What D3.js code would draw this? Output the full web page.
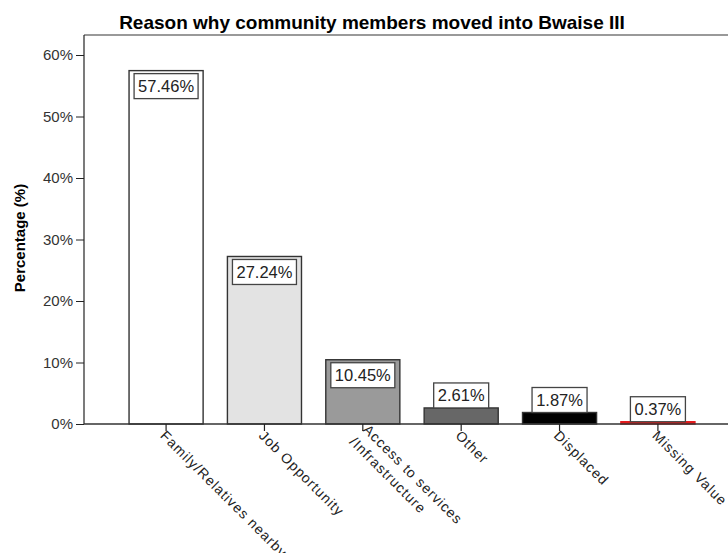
<!DOCTYPE html>
<html><head><meta charset="utf-8">
<script src="https://cdn.jsdelivr.net/npm/d3@7"></script>
<style>body{margin:0;background:#fff}svg{display:block}text{font-family:Arial,"Liberation Sans",sans-serif}</style>
</head><body><div id="chart"></div>
<script>
const title = "Reason why community members moved into Bwaise III";
const yTitle = "Percentage (%)";
const categories = ["Family/Relatives nearby","Job Opportunity","Access to services\n/Infrastructure","Other","Displaced","Missing Value"];
const values = [57.46, 27.24, 10.45, 2.61, 1.87, 0.37];
const fills = ["#ffffff","#e3e3e3","#9a9a9a","#676767","#000000","#e31a1c"];
const yTicks = [0,10,20,30,40,50,60];

(function(){
const W = 728, H = 553;
const svg = d3.select("#chart").append("svg").attr("width", W).attr("height", H);

const mLeft = 84, mTop = 35, mBottom = 424;
const y = d3.scaleLinear().domain([0, 60]).range([mBottom, 55]);
const x = d3.scaleBand().domain(categories).range([mLeft, 740]).paddingInner(0.247).paddingOuter(0.458);

svg.append("text").attr("x", 372).attr("y", 29).attr("text-anchor", "middle")
  .attr("font-size", 19).attr("font-weight", "bold").attr("fill", "#000").text(title);

svg.append("line").attr("x1", mLeft).attr("x2", W).attr("y1", mTop).attr("y2", mTop)
  .attr("stroke", "#777").attr("stroke-width", 1.5);

const yAxis = svg.append("g").attr("transform", `translate(${mLeft},0)`)
  .call(d3.axisLeft(y).tickValues(yTicks).tickFormat(d => d + "%").tickSize(8).tickPadding(3));
yAxis.select(".domain").remove();
yAxis.selectAll("line").attr("stroke", "#222");
yAxis.selectAll("text").attr("font-size", 15).attr("fill", "#333").attr("font-family", "Arial, 'Liberation Sans', sans-serif");
svg.append("line").attr("x1", mLeft).attr("x2", mLeft).attr("y1", mTop).attr("y2", mBottom)
  .attr("stroke", "#222").attr("stroke-width", 1.2);

svg.append("text").attr("transform", `translate(25,238) rotate(-90)`).attr("text-anchor", "middle")
  .attr("font-size", 15).attr("font-weight", "bold").attr("fill", "#000").text(yTitle);

const bw = x.bandwidth();
svg.selectAll("rect.bar").data(values).enter().append("rect")
  .attr("class", "bar")
  .attr("x", (d, i) => x(categories[i]))
  .attr("y", d => y(d))
  .attr("width", bw)
  .attr("height", d => mBottom - y(d))
  .attr("fill", (d, i) => fills[i])
  .attr("stroke", (d, i) => i === 5 ? "#e31a1c" : "#333")
  .attr("stroke-width", 1.4);

svg.append("line").attr("x1", mLeft).attr("x2", W).attr("y1", mBottom).attr("y2", mBottom)
  .attr("stroke", "#333").attr("stroke-width", 1.3);
const xAxis = svg.append("g").attr("transform", `translate(0,${mBottom})`)
  .call(d3.axisBottom(x).tickSize(7).tickFormat(""));
xAxis.select(".domain").remove();
xAxis.selectAll("line").attr("stroke", "#222").attr("stroke-width", 1.2);

categories.forEach((c, i) => {
  const cx = x(c) + bw / 2;
  const lines = c.split("\n");
  const t = svg.append("text").attr("transform", `translate(${cx - 3},${mBottom + 9}) rotate(45)`)
    .attr("font-size", 14).attr("fill", "#222").attr("letter-spacing", 1);
  const first = lines.length > 1 ? "-0.25em" : "0.35em";
  lines.forEach((l, j) => {
    t.append("tspan").attr("x", j * -1).attr("dy", j === 0 ? first : "1.3em").text(l);
  });
});

const fmt = d => d.toFixed(2) + "%";
values.forEach((v, i) => {
  const cx = x(categories[i]) + bw / 2;
  const label = fmt(v);
  const bh = 25;
  const bwid = label.length > 5 ? 64 : 55;
  const barTop = y(v);
  const boxTop = (mBottom - barTop) > bh + 8 ? barTop + 3 : barTop - bh;
  svg.append("rect").attr("x", cx - bwid / 2).attr("y", boxTop).attr("width", bwid).attr("height", bh)
    .attr("fill", "#fff").attr("stroke", "#444").attr("stroke-width", 1.3);
  svg.append("text").attr("x", cx).attr("y", boxTop + bh / 2 + 6).attr("text-anchor", "middle")
    .attr("font-size", 16.5).attr("fill", "#222").text(label);
});
})();
</script></body></html>
